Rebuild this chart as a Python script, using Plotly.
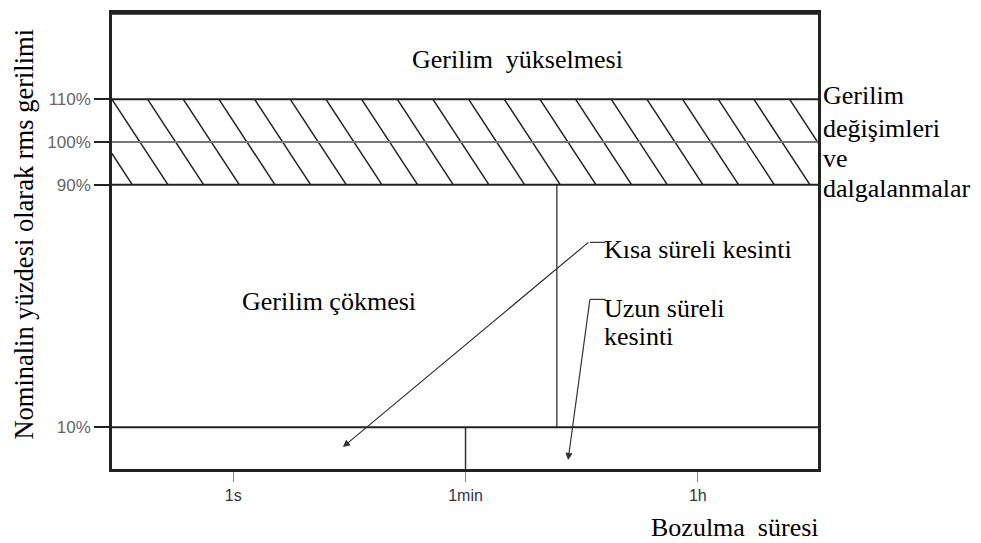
import numpy as np
import plotly.graph_objects as go

# voltage levels (% of nominal) and their tick labels
levels = [10, 90, 100, 110]
level_labels = ["10%", "90%", "100%", "110%"]

# duration ticks (seconds)
time_ticks = [1, 60, 3600]
time_labels = ["1s", "1min", "1h"]

# boundary between short and long interruption (s)
t_sustained = 300

SERIF = "Liberation Serif"
SANS = "Liberation Sans"

X_RANGE = [-0.928, 4.476]  # log10 seconds


def yscale(p):
    # compressed scale below 90 %
    p = np.asarray(p, dtype=float)
    return np.where(p >= 90, p, 90 - (90 - p) * 0.709)


Y_RANGE = [23.5, 130.2]

fig = go.Figure()

# hatched band between 90 % and 110 %
hx, hy = [], []
shift = 0.429
step = 0.273
start = X_RANGE[0] - 2 * step
while start < X_RANGE[1]:
    hx += [10 ** start, 10 ** (start + shift), None]
    hy += [float(yscale(110)), float(yscale(90)), None]
    start += step
fig.add_trace(go.Scatter(x=hx, y=hy, mode="lines",
                         line=dict(color="#222", width=1.5), hoverinfo="skip"))

# level lines
for lv in levels:
    fig.add_shape(type="line", xref="x domain", yref="y", x0=0, x1=1,
                  y0=float(yscale(lv)), y1=float(yscale(lv)),
                  line=dict(color="#777" if lv == 100 else "#222", width=2))
# heavier top border
fig.add_shape(type="line", xref="paper", yref="paper", x0=0, x1=1, y0=1, y1=1,
              line=dict(color="#222", width=3.5))

# short / long interruption border
fig.add_trace(go.Scatter(x=[t_sustained, t_sustained],
                         y=[float(yscale(90)), float(yscale(10))],
                         mode="lines", line=dict(color="#333", width=1.3),
                         hoverinfo="skip"))
# 1 min divider in the bottom strip
fig.add_trace(go.Scatter(x=[60, 60], y=[float(yscale(10)), Y_RANGE[0]],
                         mode="lines", line=dict(color="#333", width=1.5),
                         hoverinfo="skip"))


# text labels
def label(text, x, y, size=26, xanchor="center", angle=0):
    fig.add_annotation(text=text, x=x, y=y, xref="paper", yref="paper",
                       showarrow=False, xanchor=xanchor, yanchor="middle",
                       textangle=angle,
                       font=dict(family=SERIF, size=size, color="black"))


label("Gerilim  yükselmesi", 0.575, 0.898)
label("Gerilim çökmesi", 0.308, 0.368)
label("Kısa süreli kesinti", 0.694, 0.481, xanchor="left")
label("Uzun süreli", 0.694, 0.352, xanchor="left")
label("kesinti", 0.694, 0.290, xanchor="left")
label("Gerilim", 1.004, 0.818, xanchor="left")
label("değişimleri", 1.004, 0.746, xanchor="left")
label("ve", 1.004, 0.680, xanchor="left")
label("dalgalanmalar", 1.004, 0.615, xanchor="left")
label("Bozulma  süresi", 0.883, -0.128)
label("Nominalin yüzdesi olarak rms gerilimi", -0.124, 0.515, size=26.5, angle=-90)

# leader lines + arrows
for yy in [0.497, 0.372]:
    fig.add_shape(type="line", xref="paper", yref="paper",
                  x0=0.677, x1=0.699, y0=yy, y1=yy,
                  line=dict(color="#333", width=1.2))
fig.add_annotation(x=0.327, y=0.048, xref="paper", yref="paper", text="",
                   showarrow=True, ax=247, ay=-206, axref="pixel", ayref="pixel",
                   arrowhead=2, arrowsize=1.2, arrowwidth=1.2, arrowcolor="#333")
fig.add_annotation(x=0.646, y=0.0196, xref="paper", yref="paper", text="",
                   showarrow=True, ax=22, ay=-162, axref="pixel", ayref="pixel",
                   arrowhead=2, arrowsize=1.2, arrowwidth=1.2, arrowcolor="#333")

fig.update_xaxes(type="log", range=X_RANGE, tickvals=time_ticks,
                 ticktext=time_labels, ticks="outside", ticklen=10,
                 tickcolor="#888", showgrid=False, zeroline=False,
                 showline=True, mirror=True, linecolor="#222", linewidth=2.5,
                 ticklabelstandoff=0,
                 tickfont=dict(family=SANS, size=16, color="#334"))
fig.update_yaxes(range=Y_RANGE, tickvals=[float(v) for v in yscale(levels)],
                 ticktext=level_labels, ticks="outside", ticklen=15,
                 tickcolor="#222", tickwidth=2, showgrid=False, zeroline=False,
                 showline=True, mirror=True, linecolor="#222", linewidth=2.5,
                 tickfont=dict(family=SANS, size=17, color="#666"))

# the page adds an 8px body margin, so the figure is shrunk to fit the window
fig.update_layout(width=973, height=535, showlegend=False,
                  margin=dict(l=104, r=163, t=2, b=74),
                  plot_bgcolor="white", paper_bgcolor="white")

fig.write_html("out.html")
